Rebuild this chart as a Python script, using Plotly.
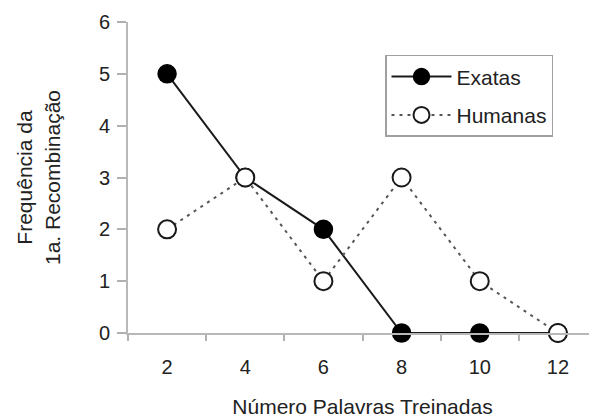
import plotly.graph_objects as go

categories = ["2", "4", "6", "8", "10", "12"]
exatas = [5, 3, 2, 0, 0, 0]
humanas = [2, 3, 1, 3, 1, 0]
y_ticks = [0, 1, 2, 3, 4, 5, 6]

font_family = "Liberation Sans, Arial, sans-serif"
txt = "#222222"

fig = go.Figure()
fig.add_trace(go.Scatter(
    x=categories, y=exatas, name="Exatas", mode="lines+markers",
    legendgroup="a",
    line=dict(color="#1a1a1a", width=2),
    marker=dict(symbol="circle", size=18, color="#000000", line=dict(color="#000000", width=1.5)),
    cliponaxis=False,
))
fig.add_trace(go.Scatter(
    x=categories, y=humanas, name="Humanas", mode="lines+markers",
    legendgroup="b",
    line=dict(color="#555555", width=2, dash="3px,5px"),
    marker=dict(symbol="circle", size=18, color="#ffffff", line=dict(color="#1a1a1a", width=2)),
    cliponaxis=False,
))

# page body has an 8px default margin, so the figure is sized/offset accordingly
fig.update_layout(
    width=589, height=410,
    margin=dict(l=120, r=0, t=14, b=85),
    paper_bgcolor="white", plot_bgcolor="white",
    font=dict(family=font_family, size=20, color=txt),
    showlegend=True,
    legend=dict(
        x=(385 - 128) / 469, y=0.894, xanchor="left", yanchor="top",
        bordercolor="#a0a0a0", borderwidth=1.5, bgcolor="white",
        font=dict(size=21, color=txt),
        traceorder="grouped", tracegroupgap=8, itemwidth=60,
    ),
    xaxis=dict(
        type="category", categoryorder="array", categoryarray=categories,
        tickson="boundaries", ticks="outside", ticklen=6, tickcolor="#b0b0b0", tickwidth=1.5,
        showline=True, linecolor="#b8b8b8", linewidth=2,
        showgrid=False, zeroline=False, range=[-0.5, 5.5],
        ticklabelstandoff=15, automargin=False,
        title=dict(text="Número Palavras Treinadas", font=dict(size=21, color=txt), standoff=26),
    ),
    yaxis=dict(
        range=[0, 6], tickvals=y_ticks, ticks="outside", ticklen=9,
        tickcolor="#b0b0b0", tickwidth=1.5,
        showline=True, linecolor="#b8b8b8", linewidth=2,
        showgrid=False, zeroline=False, ticklabelstandoff=3, automargin=False,
        title=dict(text="Frequência da<br>1a. Recombinação", font=dict(size=21, color=txt), standoff=33),
    ),
)

fig.write_html("out.html")
